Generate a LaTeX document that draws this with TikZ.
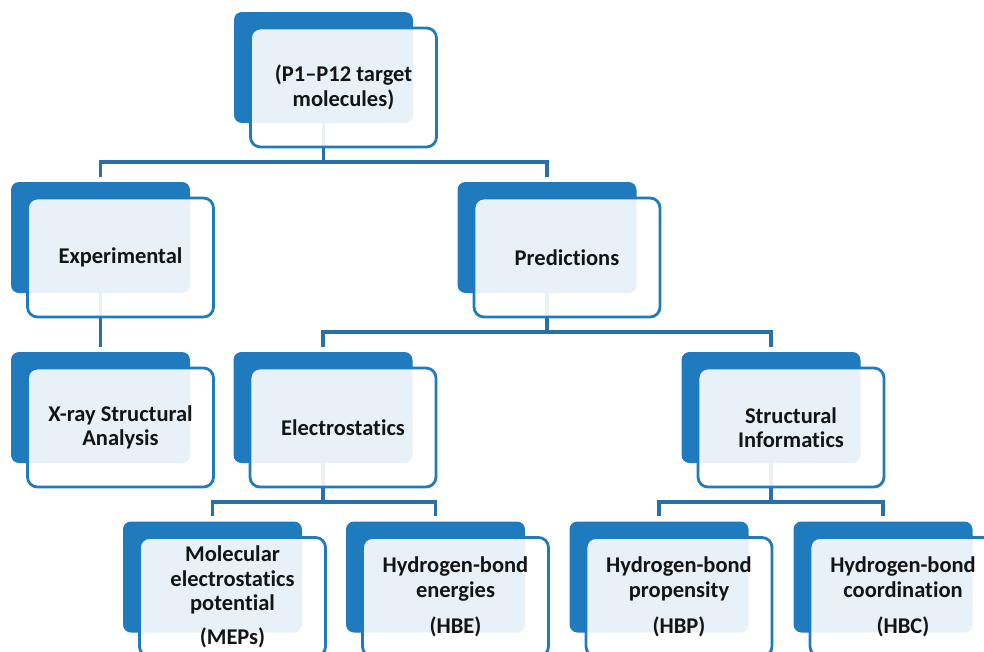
\documentclass[tikz,border=0pt]{standalone}
\usepackage{fontspec}
\setmainfont{Carlito}[Ligatures={NoCommon,NoRequired,NoContextual},Contextuals=NoAlternate]
\usetikzlibrary{positioning,backgrounds}
\definecolor{boxblue}{RGB}{31,122,190}
\definecolor{linkblue}{RGB}{40,112,172}
\definecolor{txtgray}{RGB}{20,20,20}

\begin{document}
\begin{tikzpicture}[x=1pt,y=-1pt,
  backbox/.style={fill=boxblue,rounded corners=8pt,minimum width=179pt,minimum height=111pt,inner sep=0pt},
  frontbox/.style={draw=boxblue,line width=2.8pt,fill=white,fill opacity=0.9,text opacity=1,
    rounded corners=10pt,minimum width=186pt,minimum height=119pt,inner sep=0pt,align=center,
    text=txtgray,font=\bfseries\fontsize{22.5}{24.5}\selectfont},
  link/.style={draw=linkblue,line width=3.2pt,shorten >=5pt}]
  \clip (0,0) rectangle (984,651);
  % back plates
  \foreach \n/\x/\y in {top/323.5/67.5, exp/100.5/237.5, pred/547/237.5,
      xray/100.5/407.5, elec/323/407.5, sinf/771/407.5,
      mep/212.5/577, hbe/435.5/577, hbp/659/577, hbc/883/577}
    \node[backbox] (b\n) at (\x,\y) {};
  % connectors, behind the plates
  \begin{scope}[on background layer]
    \draw[link] (btop.center) -- ++(0,94.5) -| (bexp.north);
    \draw[link] (btop.center) -- ++(0,94.5) -| (bpred.north);
    \draw[link] (bexp.center) -- (bxray.north);
    \draw[link] (bpred.center) -- ++(0,94.5) -| (belec.north);
    \draw[link] (bpred.center) -- ++(0,94.5) -| (bsinf.north);
    \draw[link] (belec.center) -- ++(0,94.5) -| (bmep.north);
    \draw[link] (belec.center) -- ++(0,94.5) -| (bhbe.north);
    \draw[link] (bsinf.center) -- ++(0,94.5) -| (bhbp.north);
    \draw[link] (bsinf.center) -- ++(0,94.5) -| (bhbc.north);
  \end{scope}
  % front cards
  \node[frontbox] (top) at ([shift={(20,20)}]btop.center) {(P1--P12 target\\molecules)};
  \node[frontbox] (exp) at ([shift={(20,20)}]bexp.center) {Experimental};
  \node[frontbox] (pred) at ([shift={(20,20)}]bpred.center) {Predictions};
  \node[frontbox] (xray) at ([shift={(20,20)}]bxray.center) {X-ray Structural\\Analysis};
  \node[frontbox] (elec) at ([shift={(20,20)}]belec.center) {Electrostatics};
  \node[frontbox] (sinf) at ([shift={(20,20)}]bsinf.center) {Structural\\Informatics};
  \node[frontbox] (mep) at ([shift={(20,20)}]bmep.center) {Molecular\\electrostatics\\potential\\[9pt](MEPs)};
  \node[frontbox] (hbe) at ([shift={(20,20)}]bhbe.center) {Hydrogen-bond\\energies\\[12pt](HBE)};
  \node[frontbox] (hbp) at ([shift={(20,20)}]bhbp.center) {Hydrogen-bond\\propensity\\[12pt](HBP)};
  \node[frontbox] (hbc) at ([shift={(20,20)}]bhbc.center) {Hydrogen-bond\\coordination\\[12pt](HBC)};
\end{tikzpicture}
\end{document}
